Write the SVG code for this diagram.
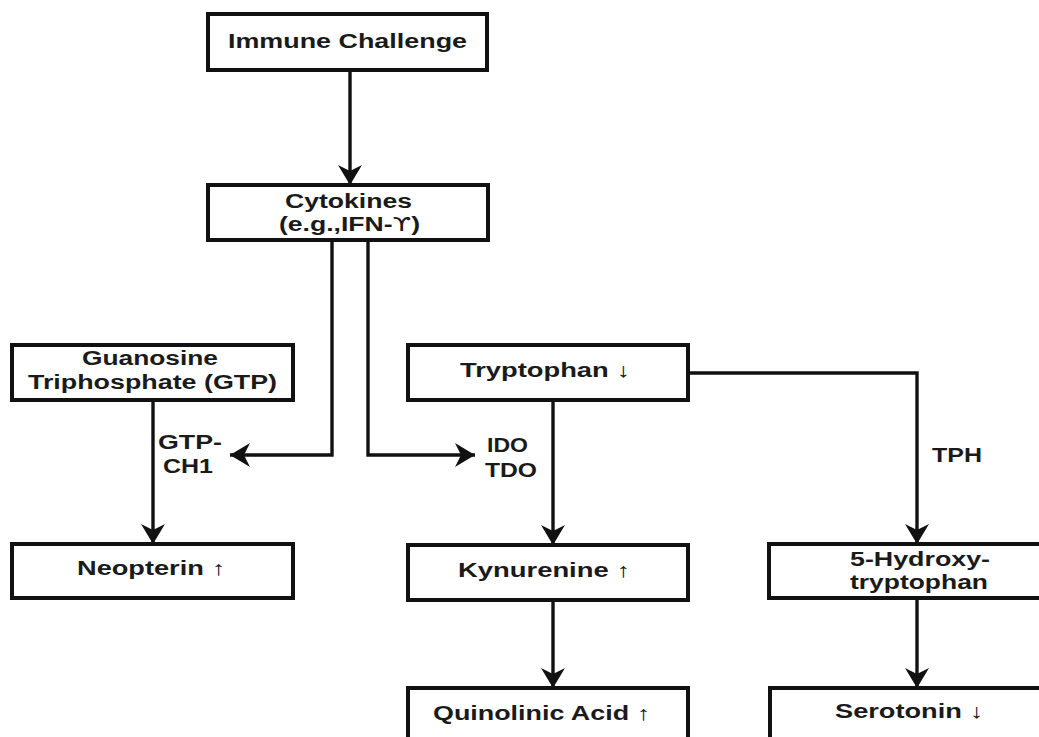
<svg xmlns="http://www.w3.org/2000/svg" width="1039" height="737" viewBox="0 0 1039 737">
<defs>
<style>
.box{fill:#fff;stroke:#111;stroke-width:4}
.t{font-family:"Liberation Sans",Arial,sans-serif;font-weight:bold;font-size:20px;fill:#1a1a1a;text-anchor:middle}
.l{font-family:"Liberation Sans",Arial,sans-serif;font-weight:bold;font-size:20px;fill:#1a1a1a}
.c{fill:none;stroke:#111;stroke-width:3.4;marker-end:url(#ah)}
.u{font-family:"DejaVu Sans",sans-serif;font-weight:normal}
</style>
<marker id="ah" markerUnits="userSpaceOnUse" viewBox="-22 -13 24 26" markerWidth="24" markerHeight="26" refX="0" refY="0" orient="auto">
<path d="M0,0 L-20,-12 L-14,0 L-20,12 Z" fill="#111"/>
</marker>
</defs>
<rect width="1039" height="737" fill="#fff"/>
<g id="connectors">
<path class="c" d="M350,70 V185"/>
<path class="c" d="M332,240 V455 H230"/>
<path class="c" d="M368,240 V455 H475"/>
<path class="c" d="M153,400 V544"/>
<path class="c" d="M553,400 V545"/>
<path class="c" d="M688,373 H917 V544"/>
<path class="c" d="M553,600 V688"/>
<path class="c" d="M917,598 V688"/>
</g>
<g id="immune"><rect class="box" x="208" y="14" width="279" height="56"/><text class="t" x="347.5" y="48" textLength="239" lengthAdjust="spacingAndGlyphs">Immune Challenge</text></g>
<g id="cytokines"><rect class="box" x="208" y="185" width="280" height="55"/><text class="t" x="348.5" y="208" textLength="127" lengthAdjust="spacingAndGlyphs">Cytokines</text><text class="t" x="349.5" y="231" textLength="141" lengthAdjust="spacingAndGlyphs">(e.g.,IFN-<tspan class="u">ϒ</tspan>)</text></g>
<g id="gtp"><rect class="box" x="12" y="345" width="281" height="55"/><text class="t" x="150" y="365" textLength="136" lengthAdjust="spacingAndGlyphs">Guanosine</text><text class="t" x="152.5" y="389" textLength="249" lengthAdjust="spacingAndGlyphs">Triphosphate (GTP)</text></g>
<g id="tryptophan"><rect class="box" x="408" y="345" width="280" height="55"/><text class="t" x="545" y="377" textLength="170" lengthAdjust="spacingAndGlyphs">Tryptophan ↓</text></g>
<g id="gtpch1"><text class="t" x="190" y="449" textLength="64" lengthAdjust="spacingAndGlyphs">GTP-</text><text class="t" x="188" y="473" textLength="50" lengthAdjust="spacingAndGlyphs">CH1</text></g>
<g id="idotdo"><text class="l" x="487" y="452" textLength="41" lengthAdjust="spacingAndGlyphs">IDO</text><text class="l" x="485" y="477" textLength="52" lengthAdjust="spacingAndGlyphs">TDO</text></g>
<g id="tph"><text class="l" x="932" y="462" textLength="50" lengthAdjust="spacingAndGlyphs">TPH</text></g>
<g id="neopterin"><rect class="box" x="12" y="544" width="281" height="54"/><text class="t" x="151" y="575" textLength="148" lengthAdjust="spacingAndGlyphs">Neopterin ↑</text></g>
<g id="kynurenine"><rect class="box" x="408" y="545" width="280" height="55"/><text class="t" x="544" y="577" textLength="172" lengthAdjust="spacingAndGlyphs">Kynurenine ↑</text></g>
<g id="hydroxy"><rect class="box" x="769" y="544" width="300" height="54"/><text class="t" x="920" y="566" textLength="140" lengthAdjust="spacingAndGlyphs">5-Hydroxy-</text><text class="t" x="919" y="589" textLength="138" lengthAdjust="spacingAndGlyphs">tryptophan</text></g>
<g id="quinolinic"><rect class="box" x="408" y="688" width="280" height="80"/><text class="t" x="541.5" y="720" textLength="217" lengthAdjust="spacingAndGlyphs">Quinolinic Acid ↑</text></g>
<g id="serotonin"><rect class="box" x="770" y="688" width="300" height="80"/><text class="t" x="909" y="718" textLength="148" lengthAdjust="spacingAndGlyphs">Serotonin ↓</text></g>
</svg>
